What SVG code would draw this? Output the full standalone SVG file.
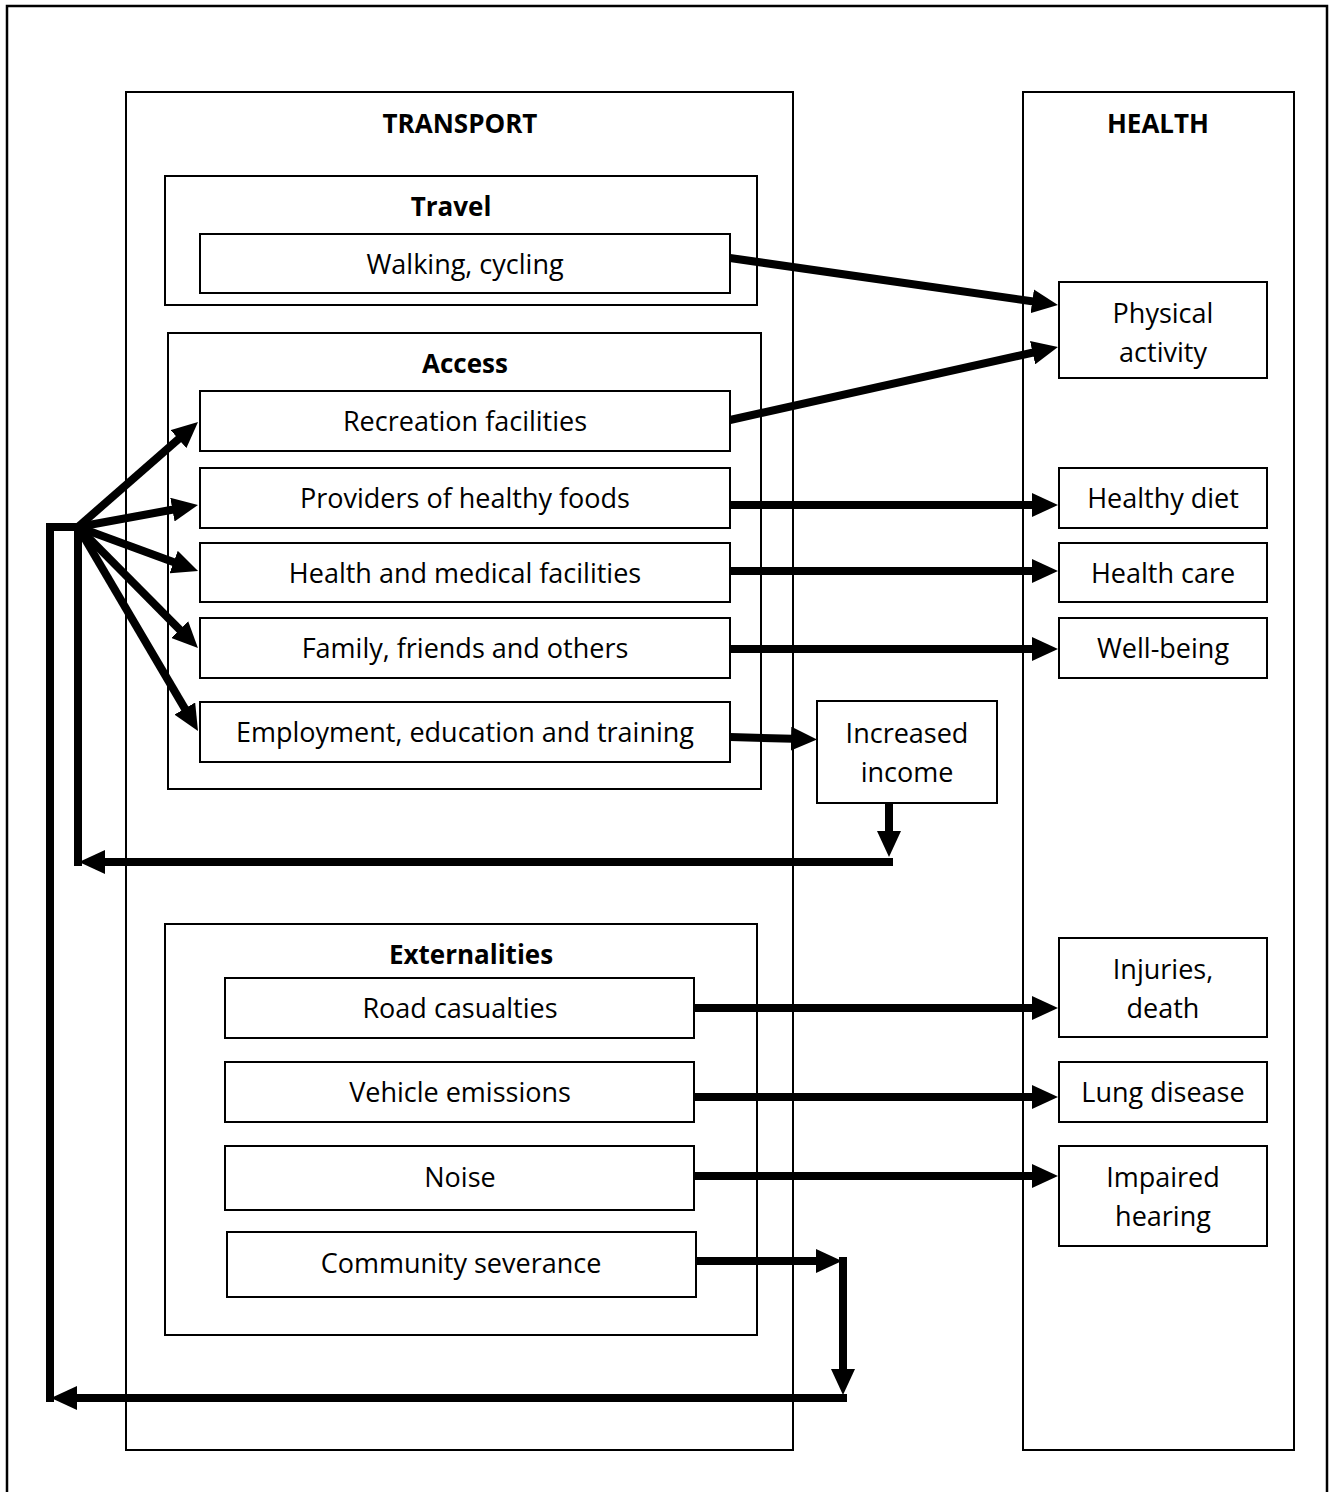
<svg xmlns="http://www.w3.org/2000/svg" width="1329" height="1492" viewBox="0 0 1329 1492">
<style>
.frame{fill:none;stroke:#000;stroke-width:2.5}
.box{fill:#fff;stroke:#000;stroke-width:2}
.grp{fill:none;stroke:#000;stroke-width:2}
.t{font-family:"Open Sans","Noto Sans","Liberation Sans",sans-serif;font-size:27px;fill:#000;text-anchor:middle}
.h{font-family:"Open Sans","Noto Sans","Liberation Sans",sans-serif;font-size:26px;font-weight:bold;fill:#000;text-anchor:middle}
.c{fill:none;stroke:#000;stroke-width:8}
</style>
<defs>
<marker id="ah" markerUnits="userSpaceOnUse" viewBox="0 0 26 24" refX="12" refY="12" markerWidth="26" markerHeight="24" orient="auto">
<path d="M0,0 L26,12 L0,24 Z" fill="#000"/>
</marker>
</defs>
<rect class="frame" x="7" y="6" width="1320" height="1492"/>
<g id="transport">
<rect class="grp" x="126" y="92" width="667" height="1358"/>
<text class="h" x="460" y="133">TRANSPORT</text>
</g>
<g id="health">
<rect class="grp" x="1023" y="92" width="271" height="1358"/>
<text class="h" x="1158" y="133">HEALTH</text>
</g>
<g id="travel">
<rect class="grp" x="165" y="176" width="592" height="129"/>
<text class="h" x="451" y="216">Travel</text>
</g>
<g id="walking">
<rect class="box" x="200" y="234" width="530" height="59"/>
<text class="t" x="465" y="274">Walking, cycling</text>
</g>
<g id="access">
<rect class="grp" x="168" y="333" width="593" height="456"/>
<text class="h" x="465" y="373">Access</text>
</g>
<g id="recreation">
<rect class="box" x="200" y="391" width="530" height="60"/>
<text class="t" x="465" y="431">Recreation facilities</text>
</g>
<g id="providers">
<rect class="box" x="200" y="468" width="530" height="60"/>
<text class="t" x="465" y="508">Providers of healthy foods</text>
</g>
<g id="medical">
<rect class="box" x="200" y="543" width="530" height="59"/>
<text class="t" x="465" y="583">Health and medical facilities</text>
</g>
<g id="family">
<rect class="box" x="200" y="618" width="530" height="60"/>
<text class="t" x="465" y="658">Family, friends and others</text>
</g>
<g id="employment">
<rect class="box" x="200" y="702" width="530" height="60"/>
<text class="t" x="465" y="742">Employment, education and training</text>
</g>
<g id="income">
<rect class="box" x="817" y="701" width="180" height="102"/>
<text class="t" x="907" y="743">Increased</text>
<text class="t" x="907" y="782">income</text>
</g>
<g id="physical">
<rect class="box" x="1059" y="282" width="208" height="96"/>
<text class="t" x="1163" y="323">Physical</text>
<text class="t" x="1163" y="362">activity</text>
</g>
<g id="diet">
<rect class="box" x="1059" y="468" width="208" height="60"/>
<text class="t" x="1163" y="508">Healthy diet</text>
</g>
<g id="care">
<rect class="box" x="1059" y="543" width="208" height="59"/>
<text class="t" x="1163" y="583">Health care</text>
</g>
<g id="wellbeing">
<rect class="box" x="1059" y="618" width="208" height="60"/>
<text class="t" x="1163" y="658">Well-being</text>
</g>
<g id="externalities">
<rect class="grp" x="165" y="924" width="592" height="411"/>
<text class="h" x="471" y="964">Externalities</text>
</g>
<g id="road">
<rect class="box" x="225" y="978" width="469" height="60"/>
<text class="t" x="460" y="1018">Road casualties</text>
</g>
<g id="emissions">
<rect class="box" x="225" y="1062" width="469" height="60"/>
<text class="t" x="460" y="1102">Vehicle emissions</text>
</g>
<g id="noise">
<rect class="box" x="225" y="1146" width="469" height="64"/>
<text class="t" x="460" y="1187">Noise</text>
</g>
<g id="severance">
<rect class="box" x="227" y="1232" width="469" height="65"/>
<text class="t" x="461" y="1273">Community severance</text>
</g>
<g id="injuries">
<rect class="box" x="1059" y="938" width="208" height="99"/>
<text class="t" x="1163" y="979">Injuries,</text>
<text class="t" x="1163" y="1018">death</text>
</g>
<g id="lung">
<rect class="box" x="1059" y="1062" width="208" height="60"/>
<text class="t" x="1163" y="1102">Lung disease</text>
</g>
<g id="hearing">
<rect class="box" x="1059" y="1146" width="208" height="100"/>
<text class="t" x="1163" y="1187">Impaired</text>
<text class="t" x="1163" y="1226">hearing</text>
</g>
<g id="connectors">
<line class="c" x1="730" y1="258" x2="1044.1" y2="303" marker-end="url(#ah)"/>
<line class="c" x1="730" y1="420" x2="1044.3" y2="350" marker-end="url(#ah)"/>
<line class="c" x1="730" y1="505" x2="1044" y2="505" marker-end="url(#ah)"/>
<line class="c" x1="730" y1="571" x2="1044" y2="571" marker-end="url(#ah)"/>
<line class="c" x1="730" y1="649" x2="1044" y2="649" marker-end="url(#ah)"/>
<line class="c" x1="730" y1="737" x2="803" y2="739" marker-end="url(#ah)"/>
<line class="c" x1="889" y1="803" x2="889" y2="843" marker-end="url(#ah)"/>
<line class="c" x1="893" y1="862" x2="93" y2="862" marker-end="url(#ah)"/>
<line class="c" x1="78" y1="523" x2="78" y2="866"/>
<line class="c" x1="78" y1="527" x2="187.5" y2="431.2" marker-end="url(#ah)"/>
<line class="c" x1="78" y1="527" x2="184.2" y2="507.5" marker-end="url(#ah)"/>
<line class="c" x1="78" y1="527" x2="184.9" y2="566.2" marker-end="url(#ah)"/>
<line class="c" x1="78" y1="527" x2="188.1" y2="638.1" marker-end="url(#ah)"/>
<line class="c" x1="78" y1="527" x2="190.9" y2="718.9" marker-end="url(#ah)"/>
<polyline class="c" points="82,527 50,527 50,1402"/>
<line class="c" x1="694" y1="1008" x2="1044" y2="1008" marker-end="url(#ah)"/>
<line class="c" x1="694" y1="1097" x2="1044" y2="1097" marker-end="url(#ah)"/>
<line class="c" x1="694" y1="1176" x2="1044" y2="1176" marker-end="url(#ah)"/>
<line class="c" x1="696" y1="1261" x2="828" y2="1261" marker-end="url(#ah)"/>
<line class="c" x1="843" y1="1257" x2="843" y2="1381" marker-end="url(#ah)"/>
<line class="c" x1="847" y1="1398" x2="65" y2="1398" marker-end="url(#ah)"/>
</g>
</svg>
